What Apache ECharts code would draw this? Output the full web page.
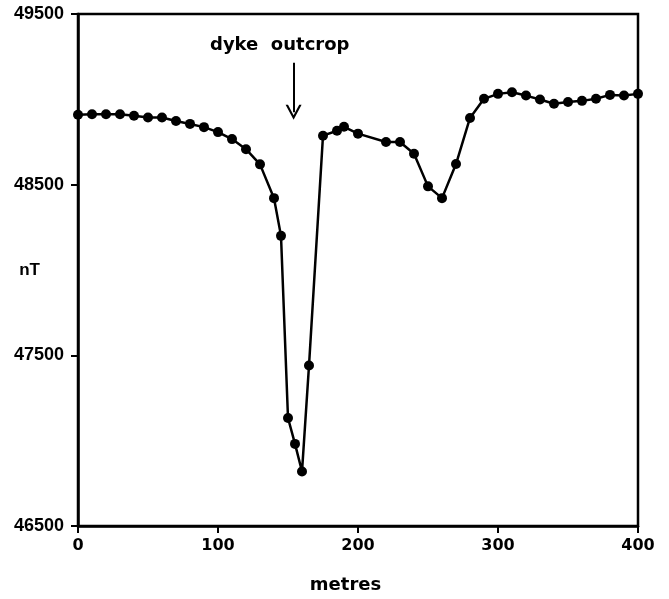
<!DOCTYPE html>
<html>
<head>
<meta charset="utf-8">
<script src="https://cdn.jsdelivr.net/npm/echarts@6/dist/echarts.min.js"></script>
<style>html,body{margin:0;padding:0;background:#fff}#c{width:669px;height:599px}</style>
</head>
<body>
<div id="c"></div>
<script>
var metres = [0,10,20,30,40,50,60,70,80,90,100,110,120,130,140,145,150,155,160,165,175,185,190,200,220,230,240,250,260,270,280,290,300,310,320,330,340,350,360,370,380,390,400];
var fieldNT = [48910,48913,48913,48913,48904,48894,48894,48873,48856,48837,48808,48767,48708,48619,48421,48200,47133,46981,46819,47440,48787,48816,48839,48799,48750,48750,48681,48490,48421,48621,48891,49003,49032,49041,49022,48999,48974,48984,48991,49003,49026,49022,49032];
var yTicks = [46500,47500,48500,49500];
var xTicks = [0,100,200,300,400];
var annotationText = 'dyke  outcrop';
var arrowX = 154, arrowTop = 49215, arrowEnd = 48925;

var pts = metres.map(function(m,i){return [m, fieldNT[i]];});
var chevron = 'path://M10,0 L20,15 L17,15 L10,4.5 L3,15 L0,15 Z';
var chart = echarts.init(document.getElementById('c'));
chart.setOption({
  animation:false,
  backgroundColor:'#fff',
  title:{text:annotationText,left:205,top:31,textStyle:{fontFamily:'DejaVu Sans',fontWeight:'bold',fontSize:18,color:'#000'}},
  grid:{left:78,right:31,top:14,bottom:66,show:true,borderColor:'#000',borderWidth:2.5},
  xAxis:{type:'value',min:0,max:400,interval:100,
    name:'metres',nameLocation:'middle',nameGap:50,nameMoveOverlap:false,
    nameTextStyle:{fontFamily:'DejaVu Sans',fontWeight:'bold',fontSize:18,color:'#000',padding:[0,25,0,0]},
    axisLine:{lineStyle:{color:'#000',width:2.5}},
    axisTick:{show:true,length:7,lineStyle:{color:'#000',width:2},customValues:xTicks},
    axisLabel:{margin:12,fontFamily:'DejaVu Sans',fontWeight:'bold',fontSize:16,color:'#000',customValues:xTicks,
      formatter:function(v){return String(v);}},
    splitLine:{show:false}},
  yAxis:{type:'value',min:46500,max:49500,interval:500,
    name:'nT',nameLocation:'middle',nameRotate:0,nameGap:38,nameMoveOverlap:false,
    nameTextStyle:{fontFamily:'Liberation Sans',fontWeight:'bold',fontSize:17,color:'#000',padding:[14,0,0,0]},
    axisLine:{lineStyle:{color:'#000',width:2.5}},
    axisTick:{show:true,length:7,lineStyle:{color:'#000',width:2},customValues:yTicks},
    axisLabel:{margin:14,fontFamily:'Liberation Sans',fontWeight:'bold',fontSize:18,color:'#000',customValues:yTicks,
      formatter:function(v){return String(v);}},
    splitLine:{show:false}},
  series:[{type:'line',data:pts,symbol:'circle',symbolSize:10,
    itemStyle:{color:'#000'},lineStyle:{color:'#000',width:2.5},
    markLine:{silent:true,symbol:['none',chevron],symbolSize:[16,15],
      lineStyle:{color:'#000',width:2,type:'solid'},label:{show:false},
      data:[[{coord:[arrowX,arrowTop]},{coord:[arrowX,arrowEnd]}]]}
  }]
});
</script>
</body>
</html>
